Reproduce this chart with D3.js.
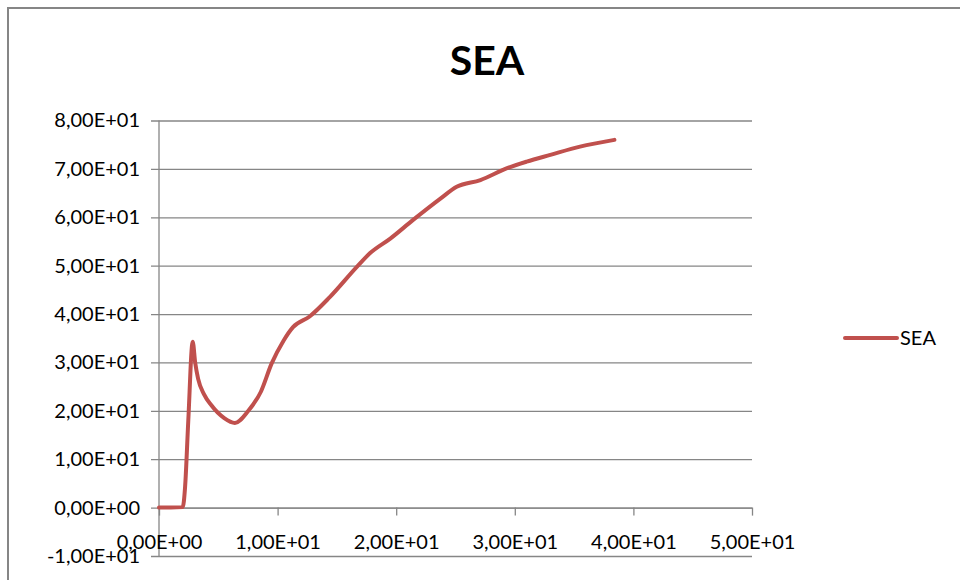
<!DOCTYPE html>
<html>
<head>
<meta charset="utf-8">
<script src="https://cdn.jsdelivr.net/npm/d3@7"></script>
<style>
  html, body { margin: 0; padding: 0; background: #fff; }
  svg { display: block; }
  text { font-family: Lato, "Open Sans", sans-serif; fill: #000; }
</style>
</head>
<body>
<svg id="chart" width="960" height="580"></svg>
<script>
// SEA series: x and y values
const seriesName = "SEA";
const xValues = [0, 1, 2.0, 2.2, 2.47, 2.84, 3.05, 3.3, 3.8, 4.4, 5.5, 6.4, 7.5, 8.6, 9.5, 10.5, 11.3,
                 12.7, 14.4, 16.7, 17.8, 19.5, 21.4, 23.7, 25.1, 27.1, 29.3, 31.0, 33.0, 35.5, 38.4];
const yValues = [0, 0, 0.1, 4.3, 18, 34.3, 30.0, 26.6, 23.4, 21.2, 18.5, 17.5, 19.9, 24, 29.8, 34.5, 37.3,
                 39.5, 43.5, 49.8, 52.6, 55.6, 59.4, 63.8, 66.3, 67.7, 70.1, 71.5, 72.9, 74.6, 76.0];
const xTicks = [0, 10, 20, 30, 40, 50];
const yTicks = [-10, 0, 10, 20, 30, 40, 50, 60, 70, 80];

// Excel-style scientific labels with a comma decimal separator
const sci = v => {
  if (v === 0) return "0,00E+00";
  const e = Math.floor(Math.log10(Math.abs(v)));
  const m = v / Math.pow(10, e);
  const sign = e < 0 ? "-" : "+";
  return m.toFixed(2).replace(".", ",") + "E" + sign + String(Math.abs(e)).padStart(2, "0");
};

const svg = d3.select("#chart");
const lineColor = "#C0504D";
const gridColor = "#868686";

// chart border
svg.append("rect").attr("x", 8).attr("y", 8).attr("width", 1000).attr("height", 1000)
  .attr("fill", "none").attr("stroke", gridColor).attr("stroke-width", 2);

const x = d3.scaleLinear().domain([0, 50]).range([159, 752]);
const y = d3.scaleLinear().domain([-10, 80]).range([556, 120.5]);

// horizontal gridlines with left tick marks
const yAxis = d3.axisLeft(y).tickValues(yTicks).tickFormat(sci)
  .tickSizeInner(-(752 - 151)).tickSizeOuter(0).tickPadding(11);
const gy = svg.append("g").attr("transform", "translate(151,0)").call(yAxis);
gy.select(".domain").remove();
gy.selectAll(".tick line").attr("stroke", gridColor).attr("stroke-width", 1.3);
gy.selectAll(".tick text").attr("font-size", 20).attr("fill", "#000")
  .style("font-family", "Lato, sans-serif");

// vertical axis line
svg.append("line").attr("x1", x(0)).attr("x2", x(0)).attr("y1", y(80)).attr("y2", y(-10))
  .attr("stroke", gridColor).attr("stroke-width", 1.3);

// horizontal axis at y = 0 with downward ticks
const xAxis = d3.axisBottom(x).tickValues(xTicks).tickFormat(sci)
  .tickSizeInner(8).tickSizeOuter(0).tickPadding(19);
const gx = svg.append("g").attr("transform", `translate(0,${y(0)})`).call(xAxis);
gx.select(".domain").attr("stroke", gridColor).attr("stroke-width", 1.3);
gx.selectAll(".tick line").attr("stroke", gridColor).attr("stroke-width", 1.3);
gx.selectAll(".tick text").attr("font-size", 20).attr("fill", "#000")
  .style("font-family", "Lato, sans-serif");

// series line
const data = xValues.map((v, i) => [v, yValues[i]]);
const line = d3.line().x(d => x(d[0])).y(d => y(d[1])).curve(d3.curveMonotoneX);
svg.append("path").datum(data).attr("d", line)
  .attr("fill", "none").attr("stroke", lineColor).attr("stroke-width", 4)
  .attr("stroke-linejoin", "round").attr("stroke-linecap", "round");

// title
svg.append("text").attr("x", 487).attr("y", 75).attr("text-anchor", "middle")
  .attr("font-size", 41).attr("font-weight", "bold").text(seriesName);

// legend
svg.append("line").attr("x1", 845).attr("x2", 897).attr("y1", 338).attr("y2", 338)
  .attr("stroke", lineColor).attr("stroke-width", 4).attr("stroke-linecap", "round");
svg.append("text").attr("x", 900).attr("y", 338).attr("dy", "0.35em")
  .attr("font-size", 20).text(seriesName);
</script>
</body>
</html>
